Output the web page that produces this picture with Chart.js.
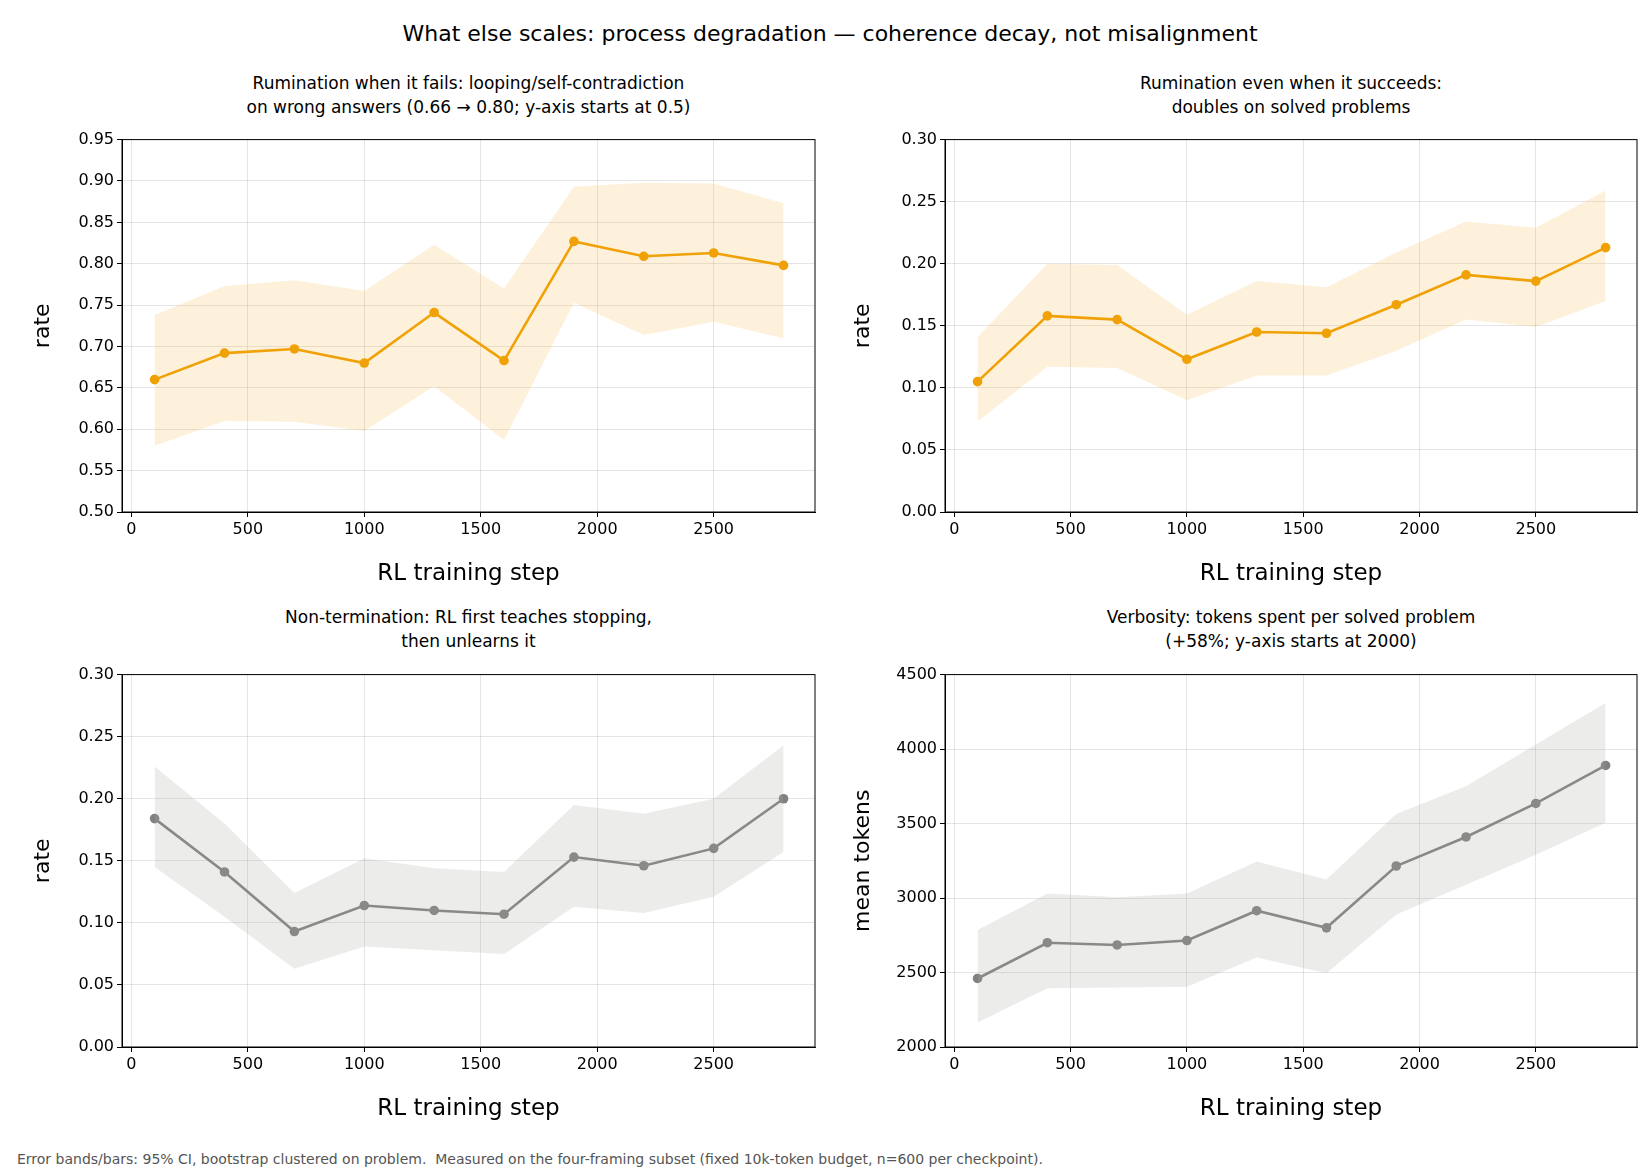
<!DOCTYPE html>
<html><head><meta charset="utf-8">
<script src="https://cdn.jsdelivr.net/npm/chart.js@4.4.1/dist/chart.umd.min.js"></script>
<style>
body{margin:0;background:#fff;font-family:"DejaVu Sans",sans-serif;}
#wrap{position:relative;width:1650px;height:1170px;}
.c{position:absolute;}
.t{position:absolute;text-align:center;font-size:17px;line-height:24px;color:#000;}
</style></head><body>
<div id="wrap">
<div class="t" style="left:0;top:20px;width:1660px;font-size:22px;line-height:28px;">What else scales: process degradation — coherence decay, not misalignment</div>
<div class="t" style="left:122px;top:71px;width:693px;">Rumination when it fails: looping/self-contradiction<br>on wrong answers (0.66 → 0.80; y-axis starts at 0.5)</div>
<div class="t" style="left:945px;top:71px;width:692px;">Rumination even when it succeeds:<br>doubles on solved problems</div>
<div class="t" style="left:122px;top:605px;width:693px;">Non-termination: RL first teaches stopping,<br>then unlearns it</div>
<div class="t" style="left:945px;top:605px;width:692px;">Verbosity: tokens spent per solved problem<br>(+58%; y-axis starts at 2000)</div>
<canvas id="c1" class="c" style="left:30px;top:127px;"></canvas>
<canvas id="c2" class="c" style="left:850px;top:127px;"></canvas>
<canvas id="c3" class="c" style="left:30px;top:662px;"></canvas>
<canvas id="c4" class="c" style="left:850px;top:662px;"></canvas>
<div class="t" style="left:17px;top:1150px;font-size:14px;line-height:18px;color:#555;text-align:left;white-space:pre;">Error bands/bars: 95% CI, bootstrap clustered on problem.  Measured on the four-framing subset (fixed 10k-token budget, n=600 per checkpoint).</div>
</div>
<script>
const steps = [100, 400, 700, 1000, 1300, 1600, 1900, 2200, 2500, 2800];
const xTicks = [0, 500, 1000, 1500, 2000, 2500];

const failMean = [0.66, 0.692, 0.697, 0.68, 0.741, 0.683, 0.827, 0.809, 0.813, 0.798];
const failLow  = [0.58, 0.61, 0.609, 0.598, 0.652, 0.587, 0.753, 0.714, 0.73, 0.71];
const failHigh = [0.738, 0.773, 0.78, 0.767, 0.823, 0.77, 0.893, 0.898, 0.897, 0.873];

const succMean = [0.105, 0.158, 0.155, 0.123, 0.145, 0.144, 0.167, 0.191, 0.186, 0.213];
const succLow  = [0.073, 0.117, 0.116, 0.09, 0.11, 0.11, 0.13, 0.155, 0.149, 0.17];
const succHigh = [0.141, 0.2, 0.199, 0.159, 0.186, 0.181, 0.209, 0.234, 0.229, 0.259];

const termMean = [0.184, 0.141, 0.093, 0.114, 0.11, 0.107, 0.153, 0.146, 0.16, 0.2];
const termLow  = [0.145, 0.105, 0.063, 0.081, 0.078, 0.075, 0.113, 0.108, 0.121, 0.157];
const termHigh = [0.226, 0.18, 0.124, 0.152, 0.144, 0.141, 0.195, 0.188, 0.2, 0.243];

const tokMean = [2460, 2700, 2685, 2715, 2915, 2800, 3215, 3410, 3635, 3890];
const tokLow  = [2165, 2395, 2400, 2405, 2600, 2495, 2890, 3090, 3290, 3505];
const tokHigh = [2785, 3030, 3005, 3030, 3245, 3125, 3565, 3750, 4030, 4310];

const ORANGE = '#f0a000', ORANGE_BAND = 'rgba(245,170,30,0.16)';
const GRAY = '#808080', GRAY_BAND = 'rgba(170,170,160,0.22)';

function pts(arr) { return steps.map((s, i) => ({x: s, y: arr[i]})); }

function makeChart(id, w, yWidth, mean, low, high, color, band, yMin, yMax, yStep, yLabel, decimals) {
    const ctx = document.getElementById(id);
    ctx.width = w; ctx.height = 465;
    new Chart(ctx, {
        type: 'line',
        data: {
            datasets: [
                {data: pts(low), borderWidth: 0, pointRadius: 0, fill: false, backgroundColor: band},
                {data: pts(high), borderWidth: 0, pointRadius: 0, fill: '-1', backgroundColor: band},
                {data: pts(mean), borderColor: color, backgroundColor: color, borderWidth: 2.6,
                 pointRadius: 4.8, pointBackgroundColor: color, pointBorderWidth: 0, fill: false}
            ]
        },
        options: {
            responsive: false, animation: false,
            layout: {padding: {top: 1, right: 30, bottom: 0, left: 0}},
            plugins: {legend: {display: false}, tooltip: {enabled: false}},
            scales: {
                x: {
                    type: 'linear', min: -40, max: 2935,
                    afterBuildTicks: s => { s.ticks = xTicks.map(v => ({value: v})); },
                    afterFit: s => { s.height = 80; },
                    grid: {color: 'rgba(0,0,0,0.1)', tickColor: '#000', tickLength: 5},
                    border: {color: '#000', width: 1},
                    ticks: {color: '#000', font: {size: 16, family: 'DejaVu Sans'}, maxRotation: 0,
                            callback: v => String(v)},
                    title: {display: true, text: 'RL training step', color: '#000',
                            font: {size: 23, family: 'DejaVu Sans'}, padding: {top: 6}}
                },
                y: {
                    min: yMin, max: yMax,
                    afterFit: s => { s.width = yWidth; },
                    grid: {color: 'rgba(0,0,0,0.1)', tickColor: '#000', tickLength: 5},
                    border: {color: '#000', width: 1},
                    ticks: {stepSize: yStep, color: '#000', font: {size: 16, family: 'DejaVu Sans'},
                            callback: v => v.toFixed(decimals)},
                    title: {display: true, text: yLabel, color: '#000',
                            font: {size: 22, family: 'DejaVu Sans'}, padding: 0}
                }
            }
        },
        plugins: [{
            id: 'frame',
            afterDraw(c) {
                const a = c.chartArea, g = c.ctx;
                g.save(); g.strokeStyle = '#000'; g.lineWidth = 1;
                g.strokeRect(a.left, a.top, a.right - a.left, a.bottom - a.top);
                g.restore();
            }
        }]
    });
}

makeChart('c1', 815, 92, failMean, failLow, failHigh, ORANGE, ORANGE_BAND, 0.5, 0.95, 0.05, 'rate', 2);
makeChart('c2', 817, 95, succMean, succLow, succHigh, ORANGE, ORANGE_BAND, 0, 0.30, 0.05, 'rate', 2);
makeChart('c3', 815, 92, termMean, termLow, termHigh, GRAY, GRAY_BAND, 0, 0.30, 0.05, 'rate', 2);
makeChart('c4', 817, 95, tokMean, tokLow, tokHigh, GRAY, GRAY_BAND, 2000, 4500, 500, 'mean tokens', 0);
</script>
</body></html>
